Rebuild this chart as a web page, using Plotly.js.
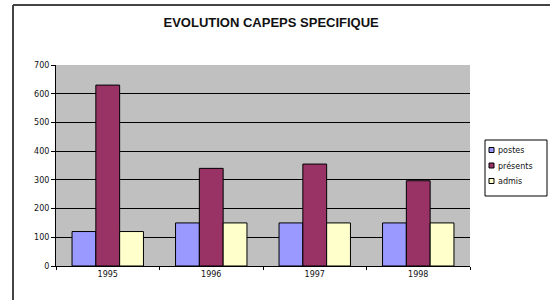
<!DOCTYPE html>
<html>
<head>
<meta charset="utf-8">
<script src="https://cdn.plot.ly/plotly-3.0.1.min.js"></script>
<style>html,body{margin:0;padding:0;background:#fff;}#chart{width:550px;height:300px;}</style>
</head>
<body>
<div id="chart"></div>
<script>
const years = ["1995", "1996", "1997", "1998"];
const postes = [120, 150, 150, 150];
const presents = [630, 340, 355, 297];
const admis = [120, 150, 150, 150];
const seriesNames = ["postes", "présents", "admis"];
const yTicks = [0, 100, 200, 300, 400, 500, 600, 700];

const colors = ["#9999FF", "#993366", "#FFFFCC"];
const data = [postes, presents, admis].map((vals, i) => ({
  type: "bar",
  x: years,
  y: vals,
  name: seriesNames[i],
  marker: {color: colors[i], line: {color: "#000", width: 1}}
}));

// plot area geometry (pixels) for converting layout positions to paper coords
const L = 56, R = 80, T = 65, B = 34, W = 550, H = 300;
const pw = W - L - R, ph = H - T - B;
const px = v => (v - L) / pw;
const py = v => (H - B - v) / ph;

const smallFont = {family: "DejaVu Sans, Verdana, sans-serif", size: 8, color: "#111"};

const shapes = [
  {type: "line", xref: "paper", yref: "paper", x0: px(13), x1: px(552), y0: py(5), y1: py(5), line: {color: "#444", width: 2}},
  {type: "line", xref: "paper", yref: "paper", x0: px(13), x1: px(13), y0: py(5), y1: py(302), line: {color: "#444", width: 2}},
  {type: "rect", xref: "paper", yref: "paper", x0: px(485), x1: px(547), y0: py(196), y1: py(140), line: {color: "#000", width: 1}, fillcolor: "#fff", layer: "below"}
];
const annotations = [];
const itemY = [150, 165.5, 181];
seriesNames.forEach((name, i) => {
  shapes.push({type: "rect", xref: "paper", yref: "paper", x0: px(489), x1: px(494), y0: py(itemY[i] + 2.5), y1: py(itemY[i] - 2.5),
               line: {color: "#000", width: 1}, fillcolor: colors[i]});
  annotations.push({xref: "paper", yref: "paper", x: px(496), y: py(itemY[i]), xanchor: "left", yanchor: "middle",
                    text: name, showarrow: false, font: smallFont});
});

const layout = {
  width: W, height: H,
  margin: {l: L, r: R, t: T, b: B},
  paper_bgcolor: "#fff",
  plot_bgcolor: "#C0C0C0",
  font: smallFont,
  title: {text: "<b>EVOLUTION CAPEPS SPECIFIQUE</b>", x: 0.493, xanchor: "center", y: 0.925, yanchor: "middle",
          font: {family: "Liberation Sans, Arial, sans-serif", size: 13, color: "#111"}},
  barmode: "group",
  bargap: 0.31,
  bargroupgap: 0,
  showlegend: false,
  xaxis: {type: "category", showline: true, linecolor: "#000", linewidth: 1, ticks: "outside",
          tickson: "boundaries", ticklen: 3, tickcolor: "#000", showgrid: false, zeroline: false,
          tickfont: smallFont},
  yaxis: {range: [0, 700], tickvals: yTicks, ticktext: yTicks.map(String), showline: true, linecolor: "#000",
          linewidth: 1, ticks: "outside", ticklen: 4, tickcolor: "#000", showgrid: true,
          gridcolor: "#000", gridwidth: 1, zeroline: false, tickfont: smallFont},
  shapes: shapes,
  annotations: annotations
};

Plotly.newPlot("chart", data, layout, {displayModeBar: false, staticPlot: true});
</script>
</body>
</html>
